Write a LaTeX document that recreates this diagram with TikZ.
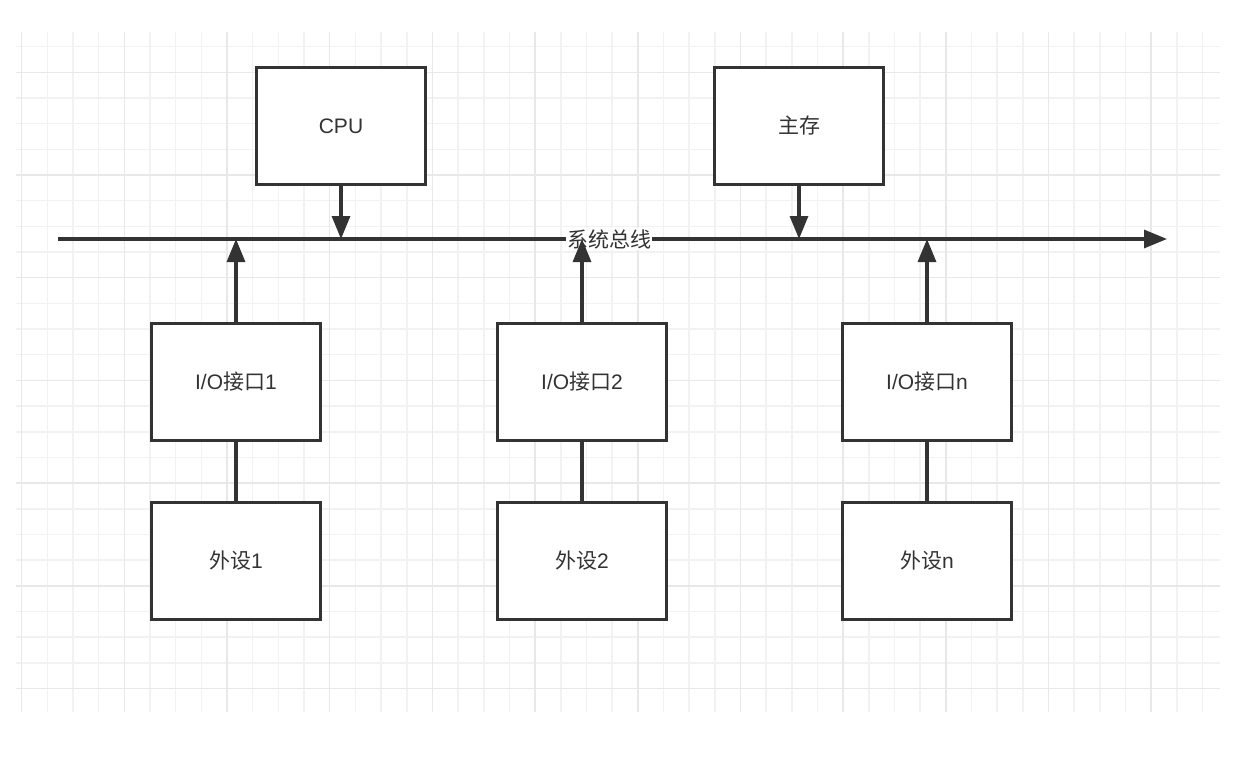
\documentclass[tikz,border=0pt]{standalone}
\usepackage{fontspec}
\setmainfont{Liberation Sans}
\newfontfamily\cjk{Noto Sans CJK SC}
\usetikzlibrary{arrows.meta}
\definecolor{gridminor}{HTML}{F2F2F2}
\definecolor{gridmajor}{HTML}{E8E8E8}
\definecolor{ink}{HTML}{333333}

\begin{document}
\begin{tikzpicture}[x=1pt,y=-1pt,>={Triangle[length=23pt,width=18pt]},
		box/.style={draw=ink,line width=2.9pt,fill=white,minimum width=169pt,minimum height=117pt,
			inner sep=0pt,text=ink,font=\fontsize{21}{25}\selectfont},
		wire/.style={draw=ink,line width=3.2pt}]
	\useasboundingbox[fill=white] (0,0) rectangle (1254,760);

	% draw the background grid
	\foreach \k in {0,...,46}
		\draw[gridminor,line width=1.5pt] ({21.7+\k*25.67},32) -- ({21.7+\k*25.67},712);
	\foreach \k in {0,...,25}
		\draw[gridminor,line width=1.5pt] (16,{46.7+\k*25.67}) -- (1220,{46.7+\k*25.67});
	% the heavier lines every fourth cell
	\foreach \k in {0,4,...,44}
		\draw[gridmajor,line width=1.5pt] ({21.7+\k*25.67},32) -- ({21.7+\k*25.67},712);
	\foreach \k in {1,5,...,25}
		\draw[gridmajor,line width=1.5pt] (16,{46.7+\k*25.67}) -- (1220,{46.7+\k*25.67});

	% the system bus
	\coordinate (busL) at (58,239);
	\coordinate (busR) at (1167,239);
	\draw[wire,->] (busL) -- (busR);
	\node[fill=white,inner sep=1pt,text=ink,font=\fontsize{21}{25}\selectfont] (bus) at (609,239) {\cjk 系统总线};

	% cpu and main memory on top
	\node[box] (cpu) at (341,126) {CPU};
	\node[box] (mem) at (799,126) {\cjk 主存};
	\draw[wire,->] (cpu) -- (cpu |- busL);
	\draw[wire,->] (mem) -- (mem |- busL);

	% interfaces and devices below
	\foreach \name/\x in {1/236,2/582,n/927} {
		\node[box] (io\name) at (\x,382) {I/O{\cjk 接口}\name};
		\node[box] (dev\name) at (\x,561) {{\cjk 外设}\name};
		\draw[wire,->] (io\name) -- (io\name |- busL);
		\draw[wire] (dev\name) -- (io\name);
	}
\end{tikzpicture}
\end{document}
